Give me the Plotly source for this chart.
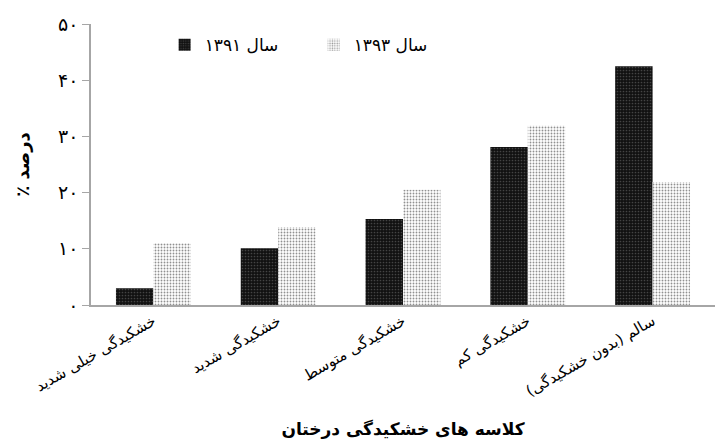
import plotly.graph_objects as go

# Tree dieback classes (x axis) and percentage of trees per class in each survey year
categories = [
    "خشکیدگی خیلی شدید",
    "خشکیدگی شدید",
    "خشکیدگی متوسط",
    "خشکیدگی کم",
    "سالم (بدون خشکیدگی)",
]
pct_1391 = [3.0, 10.1, 15.3, 28.1, 42.5]
pct_1393 = [11.0, 13.9, 20.5, 31.9, 21.9]

name_1391 = "سال ۱۳۹۱"
name_1393 = "سال ۱۳۹۳"

y_tick_values = [0, 10, 20, 30, 40, 50]
y_tick_labels = ["۰", "۱۰", "۲۰", "۳۰", "۴۰", "۵۰"]

FONT = "DejaVu Sans"
AXIS_GREY = "#a6a6a6"

fig = go.Figure()
fig.add_trace(go.Bar(
    x=categories, y=pct_1391, name=name_1391,
    marker=dict(
        color="#111111",
        line=dict(width=0),
        pattern=dict(shape=".", fgcolor="#777777", bgcolor="#111111", size=3, solidity=0.25),
    ),
))
fig.add_trace(go.Bar(
    x=categories, y=pct_1393, name=name_1393,
    marker=dict(
        color="white",
        line=dict(width=0),
        pattern=dict(shape=".", fgcolor="#222222", bgcolor="white", size=3, solidity=0.3),
    ),
))

fig.update_layout(
    width=717, height=446,
    margin=dict(l=91, r=2, t=24, b=141),
    paper_bgcolor="white", plot_bgcolor="white",
    barmode="group", bargap=0.4, bargroupgap=0,
    font=dict(family=FONT, color="black"),
    showlegend=True,
    legend=dict(
        orientation="h", x=0.118, xanchor="left", y=0.925, yanchor="middle",
        font=dict(size=17, family=FONT), bgcolor="rgba(0,0,0,0)",
        itemwidth=30, traceorder="normal",
        entrywidth=104, entrywidthmode="pixels",
    ),
    xaxis=dict(
        showline=True, linecolor=AXIS_GREY, linewidth=1.5,
        ticks="", tickangle=-30, tickfont=dict(size=15, family=FONT),
        title=dict(text="<b>کلاسه های خشکیدگی درختان</b>", font=dict(size=17, family=FONT), standoff=24),
        showgrid=False,
    ),
    yaxis=dict(
        range=[0, 50], showline=True, linecolor=AXIS_GREY, linewidth=1.5,
        ticks="outside", ticklen=7, tickcolor=AXIS_GREY,
        tickvals=y_tick_values, ticktext=y_tick_labels,
        tickfont=dict(size=19, family=FONT),
        showgrid=False, zeroline=False,
        title=dict(text="<b>٪ درصد</b>", font=dict(size=18, family=FONT), standoff=24),
    ),
)

fig.write_html("out.html")
